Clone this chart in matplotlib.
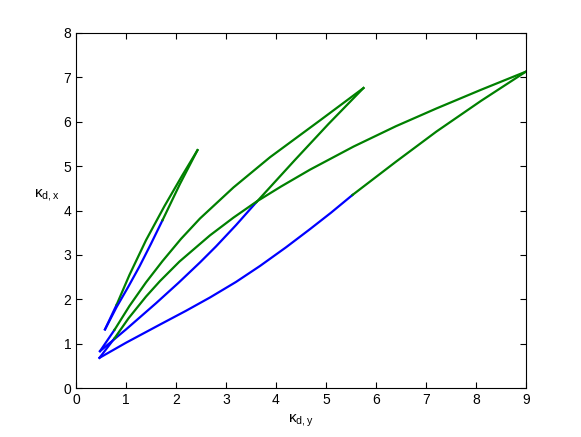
import matplotlib
matplotlib.use('Agg')
import matplotlib.pyplot as plt

plt.rcParams['font.family'] = ['Liberation Sans', 'DejaVu Sans']
plt.rcParams['mathtext.fontset'] = 'custom'
plt.rcParams['mathtext.rm'] = 'Liberation Sans'
plt.rcParams['mathtext.it'] = 'Liberation Sans'

# family 1 (smallest)
f1_up_blue_x = [0.58, 0.81]
f1_up_blue_y = [1.32, 1.87]
f1_up_green_x = [0.81, 1.07, 1.40, 1.77, 2.12, 2.43]
f1_up_green_y = [1.87, 2.55, 3.33, 4.10, 4.78, 5.36]
f1_lo_blue_x = [0.58, 0.81, 1.05, 1.27, 1.50, 1.73]
f1_lo_blue_y = [1.32, 1.82, 2.29, 2.74, 3.25, 3.78]
f1_lo_green_x = [1.73, 2.08, 2.43]
f1_lo_green_y = [3.78, 4.60, 5.36]

# family 2
f2_up_blue_x = [0.48, 0.77]
f2_up_blue_y = [0.83, 1.31]
f2_up_green_x = [0.77, 1.07, 1.40, 1.73, 2.10, 2.48, 3.15, 3.88, 4.88, 5.75]
f2_up_green_y = [1.31, 1.85, 2.38, 2.86, 3.36, 3.82, 4.52, 5.20, 6.03, 6.76]
f2_lo_blue_x = [0.48, 1.00, 1.60, 2.05, 2.48, 2.80, 3.20, 3.61]
f2_lo_blue_y = [0.83, 1.32, 1.91, 2.37, 2.83, 3.19, 3.67, 4.19]
f2_lo_green_x = [3.61, 4.38, 5.05, 5.75]
f2_lo_green_y = [4.19, 5.14, 5.95, 6.76]

# family 3 (largest)
f3_up_blue_x = [0.47, 0.77]
f3_up_blue_y = [0.68, 1.12]
f3_up_green_x = [0.77, 1.05, 1.40, 1.68, 2.07, 2.68, 3.15, 3.61, 4.10,
                 4.68, 5.55, 6.40, 7.21, 8.10, 9.00]
f3_up_green_y = [1.12, 1.57, 2.06, 2.41, 2.85, 3.44, 3.84, 4.20, 4.54,
                 4.92, 5.44, 5.90, 6.30, 6.72, 7.13]
f3_lo_blue_x = [0.47, 1.00, 1.68, 2.20, 2.68, 3.20, 3.68, 4.20, 4.68, 5.10, 5.53]
f3_lo_blue_y = [0.68, 1.02, 1.43, 1.74, 2.04, 2.39, 2.75, 3.17, 3.58, 3.95, 4.35]
f3_lo_green_x = [5.53, 6.40, 7.21, 8.10, 9.00]
f3_lo_green_y = [4.35, 5.10, 5.78, 6.47, 7.13]

blue = (0, 0, 1)
green = (0, 0.5, 0)
lw = 1.6

fig = plt.figure(figsize=(5.81, 4.37), dpi=100)
ax = fig.add_axes([0.1308, 0.1121, 0.7745, 0.8124])

ax.plot(f1_up_blue_x, f1_up_blue_y, color=blue, lw=lw)
ax.plot(f1_up_green_x, f1_up_green_y, color=green, lw=lw)
ax.plot(f1_lo_blue_x, f1_lo_blue_y, color=blue, lw=lw)
ax.plot(f1_lo_green_x, f1_lo_green_y, color=green, lw=lw)

ax.plot(f2_up_blue_x, f2_up_blue_y, color=blue, lw=lw)
ax.plot(f2_up_green_x, f2_up_green_y, color=green, lw=lw)
ax.plot(f2_lo_blue_x, f2_lo_blue_y, color=blue, lw=lw)
ax.plot(f2_lo_green_x, f2_lo_green_y, color=green, lw=lw)

ax.plot(f3_up_blue_x, f3_up_blue_y, color=blue, lw=lw)
ax.plot(f3_up_green_x, f3_up_green_y, color=green, lw=lw)
ax.plot(f3_lo_blue_x, f3_lo_blue_y, color=blue, lw=lw)
ax.plot(f3_lo_green_x, f3_lo_green_y, color=green, lw=lw)

ax.set_xlim(0, 9)
ax.set_ylim(0, 8)
ax.set_xticks(range(0, 10))
ax.set_yticks(range(0, 9))
ax.tick_params(direction='in', top=True, right=True, length=4, labelsize=10)
for s in ax.spines.values():
    s.set_linewidth(0.8)

ax.set_xlabel(r'$\kappa_{\rm d,y}$', fontsize=11)
ax.set_ylabel(r'$\kappa_{\rm d,x}$', fontsize=11, rotation=0)
ax.yaxis.set_label_coords(-0.065, 0.52)

fig.savefig('out.png', dpi=100)
